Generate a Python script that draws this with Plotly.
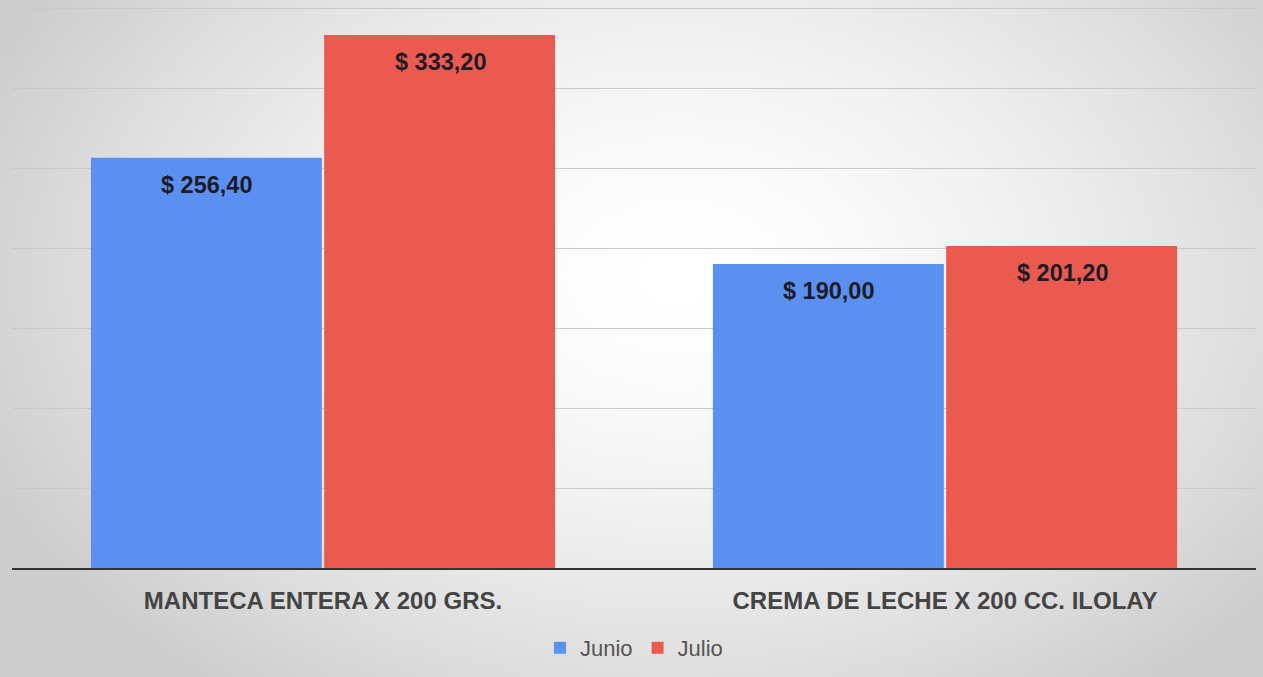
import base64
import struct
import zlib

import plotly.graph_objects as go

# ---------------- data ----------------
categories = ["MANTECA ENTERA X 200 GRS.", "CREMA DE LECHE X 200 CC. ILOLAY"]
series_names = ["Junio", "Julio"]
junio = [256.40, 190.00]
julio = [333.20, 201.20]
series_values = [junio, julio]
series_colors = ["#5B8FF0", "#EA5A4F"]


def fmt(v):
    s = f"{v:,.2f}"
    s = s.replace(",", "X").replace(".", ",").replace("X", ".")
    return "$ " + s


# ---------------- background gradient (styling only) ----------------
def radial_png(w, h, cx, cy, rx, ry, inner=255, outer=205):
    rows = []
    for j in range(h):
        row = bytearray([0])
        for i in range(w):
            dx = (i - cx) / rx
            dy = (j - cy) / ry
            d = min(1.0, (dx * dx + dy * dy) ** 0.5)
            t = d ** 1.6
            c = int(round(inner + (outer - inner) * t))
            row += bytes([c, c, c])
        rows.append(bytes(row))
    raw = b"".join(rows)

    def chunk(tag, data):
        c = struct.pack(">I", len(data)) + tag + data
        return c + struct.pack(">I", zlib.crc32(tag + data) & 0xFFFFFFFF)

    png = b"\x89PNG\r\n\x1a\n"
    png += chunk(b"IHDR", struct.pack(">IIBBBBB", w, h, 8, 2, 0, 0, 0))
    png += chunk(b"IDAT", zlib.compress(raw, 9))
    png += chunk(b"IEND", b"")
    return "data:image/png;base64," + base64.b64encode(png).decode()


W, H = 1263, 677
ML, MR, MT, MB = 12, 7, 0, 109
PW, PH = W - ML - MR, H - MT - MB

bg = radial_png(253, 136, 135, 55, 150, 105)

FONT = "Liberation Sans, Arial, sans-serif"

# ---------------- figure ----------------
fig = go.Figure()
for name, vals, col in zip(series_names, series_values, series_colors):
    fig.add_trace(
        go.Bar(
            name=name,
            x=categories,
            y=vals,
            marker=dict(color=col, line=dict(width=0)),
            hoverinfo="x+y",
        )
    )

annotations = []
shifts = [-117, 117]
for vals, xs in zip(series_values, shifts):
    for cat, v in zip(categories, vals):
        annotations.append(
            dict(
                x=cat,
                y=v,
                xref="x",
                yref="y",
                text=f"<b>{fmt(v)}</b>",
                showarrow=False,
                xshift=xs,
                yshift=-27,
                yanchor="middle",
                font=dict(family=FONT, size=23.5, color="#1c1c28"),
            )
        )

fig.update_layout(
    width=W,
    height=H,
    margin=dict(l=ML, r=MR, t=MT, b=MB, pad=0),
    paper_bgcolor="#e4e4e4",
    plot_bgcolor="rgba(0,0,0,0)",
    barmode="group",
    bargap=0.25,
    bargroupgap=0.01,
    showlegend=True,
    legend=dict(
        orientation="h",
        x=0.5,
        xanchor="center",
        y=(PH - 648 + MT) / PH,
        yanchor="middle",
        font=dict(family=FONT, size=22, color="#555555"),
        bgcolor="rgba(0,0,0,0)",
        itemwidth=30,
        tracegroupgap=0,
    ),
    annotations=annotations,
    images=[
        dict(
            source=bg,
            xref="paper",
            yref="paper",
            x=-ML / PW,
            y=1 + MT / PH,
            sizex=W / PW,
            sizey=H / PH,
            sizing="stretch",
            xanchor="left",
            yanchor="top",
            layer="below",
        )
    ],
    xaxis=dict(
        showline=True,
        linecolor="#333333",
        linewidth=2,
        showgrid=False,
        ticks="",
        tickfont=dict(family=FONT, size=24, color="#444444"),
        tickprefix="<b>",
        ticksuffix="</b>",
        ticklabelstandoff=10,
    ),
    yaxis=dict(
        range=[0, 355],
        dtick=50,
        showgrid=True,
        gridcolor="#c9c9c9",
        gridwidth=1,
        showticklabels=False,
        zeroline=False,
        showline=False,
        ticks="",
    ),
)

fig.write_html(
    "out.html",
    config={"displayModeBar": False},
    post_script="document.body.style.margin='0';document.body.style.overflow='hidden';",
)
